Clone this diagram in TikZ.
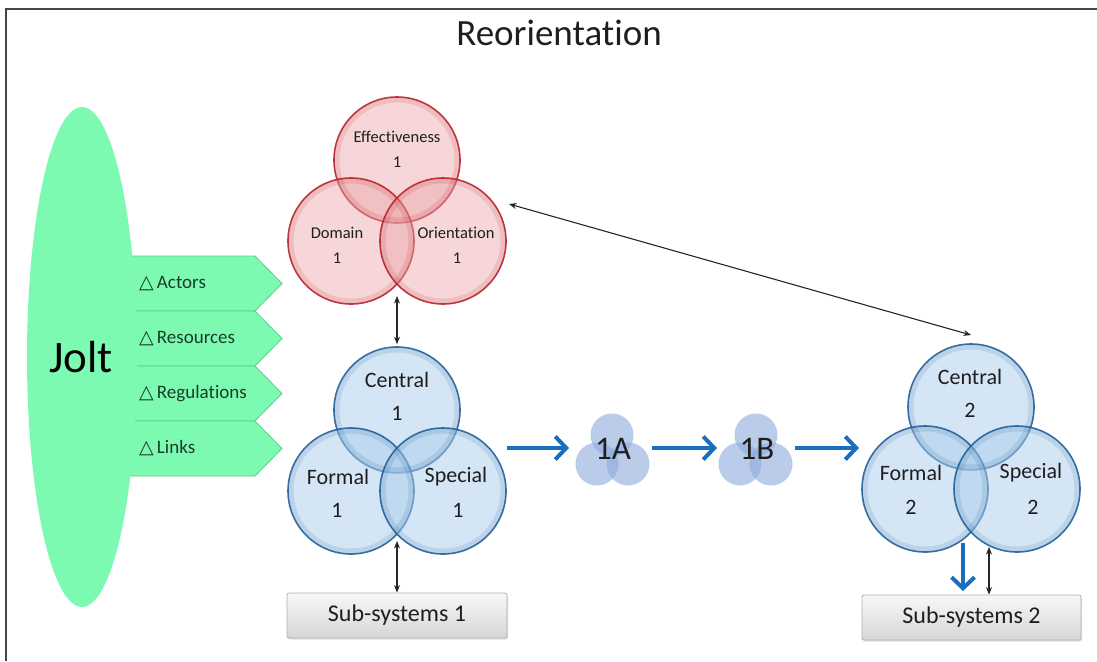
\documentclass[tikz,border=0pt]{standalone}
\usepackage{fontspec}
\setmainfont{Carlito}[Ligatures=NoCommon]
\newfontfamily\symfont{DejaVu Sans}
\usetikzlibrary{arrows.meta,shadows}

\definecolor{joltgreen}{RGB}{125,250,178}
\definecolor{bandline}{RGB}{95,205,140}
\definecolor{bandtext}{RGB}{25,60,40}
\definecolor{venred}{RGB}{235,165,168}
\definecolor{venrededge}{RGB}{185,35,45}
\definecolor{venblue}{RGB}{170,205,235}
\definecolor{venblueedge}{RGB}{35,95,155}
\definecolor{smallblue}{RGB}{140,170,220}
\definecolor{flowblue}{RGB}{25,110,190}
\definecolor{framegray}{RGB}{70,70,70}
\definecolor{txtdark}{RGB}{30,30,30}

\newcommand{\fs}[1]{\fontsize{#1}{#1}\selectfont}

\begin{document}
\begin{tikzpicture}[x=1pt,y=-1pt,
  redc/.style={circle, minimum size=126pt, inner sep=0pt, draw=venrededge,
    line width=1.6pt, fill=venred, fill opacity=0.45, draw opacity=0.9},
  bluec/.style={circle, minimum size=126pt, inner sep=0pt, draw=venblueedge,
    line width=1.6pt, fill=venblue, fill opacity=0.5, draw opacity=0.9},
  glow/.style={line width=5pt, opacity=0.14},
  smallc/.style={circle, minimum size=43pt, inner sep=0pt, fill=smallblue,
    fill opacity=0.6},
  redtxt/.style={font=\fs{16.5}, text=txtdark, inner sep=0pt},
  bluetxt/.style={font=\fs{22}, text=txtdark, inner sep=0pt},
  bandtxt/.style={font=\fs{19}, text=bandtext, anchor=west, inner sep=0pt},
  subbox/.style={rectangle, rounded corners=2pt, draw=gray!60, line width=0.8pt,
    top color=gray!6, bottom color=gray!32, font=\fs{24}, text=txtdark,
    drop shadow={opacity=0.25, shadow xshift=1pt, shadow yshift=-1.5pt}},
  thinarrow/.style={{Stealth[length=7.5pt,width=6pt]}-{Stealth[length=7.5pt,width=6pt]},
    line width=1.1pt, black!85},
  flow/.style={-{Straight Barb[length=11pt,width=23pt]}, line width=4pt, flowblue}]

\useasboundingbox (0,0) rectangle (1097,661);

% frame edges
\draw[framegray, line width=2pt] (6,661) -- (6,9) -- (1097,9);

% title
\node[font=\fs{37}, text=txtdark] (title) at (559,33) {Reorientation};

% the four change bands
\foreach \t [count=\i] in {Actors,Resources,Regulations,Links} {
  \pgfmathsetmacro{\ytop}{256+(\i-1)*55}
  \pgfmathsetmacro{\ybot}{\ytop+55}
  \pgfmathsetmacro{\ymid}{\ytop+27.5}
  \filldraw[fill=joltgreen, draw=bandline, line width=0.8pt]
    (115,\ytop) -- (255,\ytop) -- (282,\ymid) -- (255,\ybot) -- (115,\ybot) -- cycle;
  \node[bandtxt] (band\i) at (139,\ymid) {{\symfont\fs{19}△}\,\t};
}

% jolt ellipse
\fill[joltgreen] (82,357) ellipse [x radius=55, y radius=250];
\node[font=\fs{45}, text=black] (jolt) at (81,357) {Jolt};

% red Venn diagram
\node[redc] (eff) at (397,160) {};
\node[redc] (dom) at (351,241) {};
\node[redc] (ori) at (443,241) {};
\foreach \n in {eff,dom,ori}
  \draw[glow, venrededge] (\n.center) circle [radius=60];
\node[redtxt] (efft) at (397,137) {Effectiveness};
\node[redtxt] (effn) at (397,162) {1};
\node[redtxt] (domt) at (337,233) {Domain};
\node[redtxt] (domn) at (337,258) {1};
\node[redtxt] (orit) at (456,233) {Orientation};
\node[redtxt] (orin) at (457,258) {1};

% first blue Venn diagram
\node[bluec] (cen1) at (397,410) {};
\node[bluec] (for1) at (351,491) {};
\node[bluec] (spe1) at (443,491) {};

% second blue Venn diagram
\node[bluec] (cen2) at (971,407) {};
\node[bluec] (for2) at (925,489) {};
\node[bluec] (spe2) at (1017,489) {};
\foreach \n in {cen1,for1,spe1,cen2,for2,spe2}
  \draw[glow, venblueedge] (\n.center) circle [radius=60];

\node[bluetxt] (cen1t) at (397,380) {Central};
\node[bluetxt] (cen1n) at (397,413) {1};
\node[bluetxt] (for1t) at (338,477) {Formal};
\node[bluetxt] (for1n) at (337,510) {1};
\node[bluetxt] (spe1t) at (456,477) {Special};
\node[bluetxt] (spe1n) at (458,510) {1};
\node[bluetxt] (cen2t) at (970,377) {Central};
\node[bluetxt] (cen2n) at (970,410) {2};
\node[bluetxt] (for2t) at (911,473) {Formal};
\node[bluetxt] (for2n) at (911,507) {2};
\node[bluetxt] (spe2t) at (1031,473) {Special};
\node[bluetxt] (spe2n) at (1033,507) {2};

% intermediate stages
\node[smallc] (a1) at (612,435) {};
\node[smallc] (a2) at (597,464) {};
\node[smallc] (a3) at (628,464) {};
\node[font=\fs{33}, text=txtdark] (stageA) at (613,449) {1A};
\node[smallc] (b1) at (756,435) {};
\node[smallc] (b2) at (740,464) {};
\node[smallc] (b3) at (771,464) {};
\node[font=\fs{33}, text=txtdark] (stageB) at (757,449) {1B};

% sub-system boxes
\node[subbox, minimum width=220pt, minimum height=45pt] (sub1) at (397,615.5) {Sub-systems 1};
\node[subbox, minimum width=219pt, minimum height=45pt] (sub2) at (971.5,617.5) {Sub-systems 2};

% connector end points
\coordinate (redlow) at (397,296);
\coordinate (blue1low) at (397,541);
\coordinate (diagA) at (509,204);
\coordinate (diagB) at (971,335);
\coordinate (f1s) at (507,448);
\coordinate (f1e) at (569,448);
\coordinate (f2s) at (652,448);
\coordinate (f2e) at (717,448);
\coordinate (f3s) at (795,448);
\coordinate (f3e) at (859,448);
\coordinate (d2s) at (963,543);
\coordinate (d2e) at (963,591);
\coordinate (blue2low) at (989,547);

% thin two-way connectors
\draw[thinarrow] (redlow) -- ([yshift=2pt]cen1.north);
\draw[thinarrow] (blue1low) -- (sub1.north);
\draw[thinarrow] (diagA) -- (diagB);
\draw[thinarrow] (blue2low) -- (blue2low |- sub2.north);

% blue flow arrows
\draw[flow] (f1s) -- (f1e);
\draw[flow] (f2s) -- (f2e);
\draw[flow] (f3s) -- (f3e);
\draw[flow] (d2s) -- (d2e);
\end{tikzpicture}
\end{document}
